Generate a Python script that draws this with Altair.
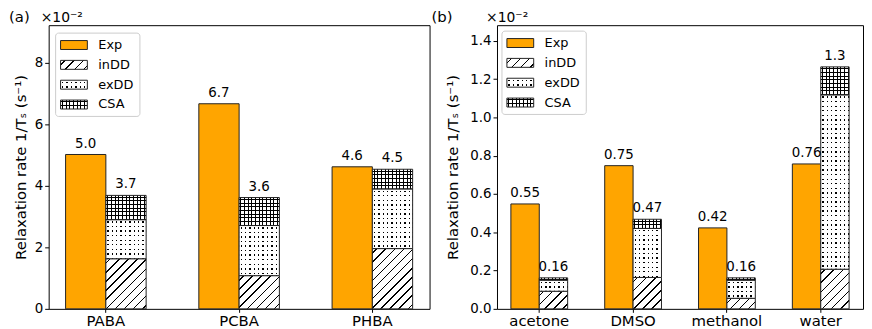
import altair as alt
import pandas as pd

# ---------------- data ----------------
components = ["inDD", "exDD", "CSA"]
legend_domain = ["Exp", "inDD", "exDD", "CSA"]

cats_a = ["PABA", "PCBA", "PHBA"]
exp_a = [5.02, 6.67, 4.62]
indd_a = [1.63, 1.08, 1.96]
exdd_a = [1.27, 1.63, 1.94]
csa_a = [0.79, 0.91, 0.64]

cats_b = ["acetone", "DMSO", "methanol", "water"]
exp_b = [0.548, 0.748, 0.423, 0.757]
indd_b = [0.092, 0.164, 0.055, 0.207]
exdd_b = [0.058, 0.256, 0.095, 0.911]
csa_b = [0.012, 0.048, 0.012, 0.146]

ticks_a = [0, 2, 4, 6, 8]
ticks_b = [0.0, 0.2, 0.4, 0.6, 0.8, 1.0, 1.2, 1.4]

# ---------------- layout / style constants ----------------
H = 286
FONT = "DejaVu Sans"
ORANGE = "#FFA500"
EDGE = "#222222"
CLEAR = "rgba(255,255,255,0)"
Y_TITLE = "Relaxation rate 1/Tₛ (s⁻¹)"


def stops_for(extent, period, thick, line, bg):
    stops = [{"offset": 0, "color": bg}]
    s = period / 2 - thick / 2
    while s < extent:
        a = max(s / extent, 0.0)
        b = min((s + thick) / extent, 1.0)
        stops += [
            {"offset": round(a, 5), "color": bg},
            {"offset": round(a, 5), "color": line},
            {"offset": round(b, 5), "color": line},
            {"offset": round(b, 5), "color": bg},
        ]
        s += period
    stops.append({"offset": 1, "color": bg})
    return stops


def hstripes(h, period, thick, line="#000000", bg="#ffffff"):
    return {"gradient": "linear", "x1": 0, "y1": 0, "x2": 0, "y2": 1,
            "stops": stops_for(max(h, 0.5), period, thick, line, bg)}


def vstripes(w, period, thick, line="#000000", bg="#ffffff"):
    return {"gradient": "linear", "x1": 0, "y1": 0, "x2": 1, "y2": 0,
            "stops": stops_for(w, period, thick, line, bg)}


def diag(w, h, period=9.2, thick=1.5, line="#000000", bg="#ffffff"):
    h = max(h, 0.5)
    r = h / w
    k = (1 + r) / (1 + r * r)
    return {"gradient": "linear", "x1": 0, "y1": 0, "x2": round(k, 5), "y2": round(k * r, 5),
            "stops": stops_for(w + h, period, thick, line, bg)}


def base_fill(w, h_in, h_ex, h_csa):
    return {"inDD": diag(w, h_in), "exDD": hstripes(h_ex, 4.6, 1.4), "CSA": hstripes(h_csa, 3.7, 1.0)}


def over_fill(w):
    return {"exDD": vstripes(w, 4.4, 1.4, CLEAR, "#ffffff"), "CSA": vstripes(w, 3.7, 1.0, "#000000", CLEAR)}


def panel(cats, exp, indd, exdd, csa, W, ymax, ticks, tickfmt, pi, po,
          tag, tag_x, sci_x, title_pad, leg_x, leg_y):
    n = len(cats)
    step = W / (n - pi + 2 * po)
    w = step * (1 - pi) / 2
    ppu = H / ymax

    exp_df = pd.DataFrame({"cat": cats, "grp": ["Exp"] * n, "value": exp})
    rows = []
    for i, c in enumerate(cats):
        for k, (comp, arr) in enumerate(zip(components, [indd, exdd, csa])):
            rows.append({"cat": c, "grp": "Model", "comp": comp, "ord": k, "value": arr[i]})
    mod_df = pd.DataFrame(rows)
    totals = [a + b + c for a, b, c in zip(indd, exdd, csa)]
    lab_df = pd.DataFrame({"cat": cats * 2, "grp": ["Exp"] * n + ["Model"] * n,
                           "total": list(exp) + totals})

    x_enc = alt.X("cat:N", sort=cats,
                  scale=alt.Scale(paddingInner=pi, paddingOuter=po),
                  axis=alt.Axis(title=None, labelAngle=0, labelFontSize=15, labelColor="#000",
                                tickSize=3.5, tickColor="#000", labelPadding=1, domain=False,
                                bandPosition=0.5))
    xo_enc = alt.XOffset("grp:N", sort=["Exp", "Model"],
                         scale=alt.Scale(domain=["Exp", "Model"], paddingInner=0, paddingOuter=0))
    y_scale = alt.Scale(domain=[0, ymax], nice=False, zero=True)
    y_axis = alt.Axis(title=Y_TITLE, values=ticks, format=tickfmt, grid=False, domain=False,
                      tickSize=4, tickColor="#000", labelFontSize=13.5, labelColor="#000",
                      labelPadding=2, titleFontSize=15, titleFontWeight="normal",
                      titleColor="#000", titlePadding=title_pad)

    exp_layer = alt.Chart(exp_df).mark_bar(fill=ORANGE, stroke=EDGE, strokeWidth=1).encode(
        x=x_enc, xOffset=xo_enc,
        y=alt.Y("value:Q", scale=y_scale, axis=y_axis),
    )

    base_cond = []
    for i, c in enumerate(cats):
        t = "datum.cat === '%s' && datum.comp === '%s'"
        f = base_fill(w, indd[i] * ppu, exdd[i] * ppu, csa[i] * ppu)
        for comp in components:
            base_cond.append({"test": t % (c, comp), "value": f[comp]})
    of = over_fill(w)
    over_cond = [{"test": "datum.comp === '%s'" % k, "value": v} for k, v in of.items()]

    y_stack = alt.Y("value:Q", stack="zero", scale=y_scale, axis=y_axis)
    base_layer = alt.Chart(mod_df).mark_bar(strokeWidth=0).encode(
        x=x_enc, xOffset=xo_enc, y=y_stack,
        order=alt.Order("ord:Q", sort="ascending"),
        fill=alt.FillValue("#ffffff", condition=base_cond),
    )
    over_layer = alt.Chart(mod_df).mark_bar(stroke=EDGE, strokeWidth=1).encode(
        x=x_enc, xOffset=xo_enc, y=y_stack,
        order=alt.Order("ord:Q", sort="ascending"),
        fill=alt.FillValue(CLEAR, condition=over_cond),
    )
    text_layer = alt.Chart(lab_df).mark_text(
        baseline="alphabetic", dy=-7, fontSize=13.5, font=FONT, color="#000"
    ).encode(
        x=x_enc, xOffset=xo_enc,
        y=alt.Y("total:Q", scale=y_scale, axis=y_axis),
        text=alt.Text("total:Q", format=".2r"),
    )
    tag_layer = alt.Chart(pd.DataFrame({"t": [tag]})).mark_text(
        align="left", baseline="top", fontSize=15, font=FONT, color="#000"
    ).encode(text="t:N", x=alt.value(tag_x), y=alt.value(-15))
    sci_layer = alt.Chart(pd.DataFrame({"t": ["×10⁻²"]})).mark_text(
        align="left", baseline="top", fontSize=14, font=FONT, color="#000"
    ).encode(text="t:N", x=alt.value(sci_x), y=alt.value(-14))

    bars = alt.layer(exp_layer, base_layer, over_layer, text_layer, tag_layer, sci_layer)

    # ---- legend (drawn as marks, one row per legend entry) ----
    leg_df = pd.DataFrame({"comp": legend_domain})
    leg_y_enc = alt.Y("comp:N", sort=legend_domain, axis=None,
                      scale=alt.Scale(domain=legend_domain, range=[leg_y + 2, leg_y + 82],
                                      paddingInner=0.55, paddingOuter=0.275))
    sym_w, sym_h = 27, 9
    sb = base_fill(sym_w, sym_h, sym_h, sym_h)
    sym_base_cond = [{"test": "datum.comp === '%s'" % k, "value": v} for k, v in sb.items()]
    so = over_fill(sym_w)
    sym_over_cond = [{"test": "datum.comp === '%s'" % k, "value": v} for k, v in so.items()]

    box = alt.Chart(pd.DataFrame({"b": [0]})).mark_rect(
        fill="#ffffff", stroke="#cccccc", strokeWidth=1, cornerRadius=3
    ).encode(x=alt.value(leg_x), x2=alt.value(leg_x + 85),
             y=alt.value(leg_y), y2=alt.value(leg_y + 84))
    sym_base = alt.Chart(leg_df).mark_rect(strokeWidth=0).encode(
        x=alt.value(leg_x + 5), x2=alt.value(leg_x + 5 + sym_w), y=leg_y_enc,
        fill=alt.FillValue(ORANGE, condition=sym_base_cond),
    )
    sym_over = alt.Chart(leg_df).mark_rect(stroke=EDGE, strokeWidth=1).encode(
        x=alt.value(leg_x + 5), x2=alt.value(leg_x + 5 + sym_w), y=leg_y_enc,
        fill=alt.FillValue(CLEAR, condition=sym_over_cond),
    )
    sym_text = alt.Chart(leg_df).mark_text(
        align="left", baseline="middle", fontSize=13, font=FONT, color="#000"
    ).encode(x=alt.value(leg_x + 43), y=leg_y_enc, text="comp:N")
    leg = alt.layer(box, sym_base, sym_over, sym_text)

    return alt.layer(bars, leg).resolve_scale(y="independent").properties(width=W, height=H)


pa = panel(cats_a, exp_a, indd_a, exdd_a, csa_a, 384, H / 31.0, ticks_a, "d",
           0.3955, 0.127, "(a)", -40, -8, 6, 7, 8)
pb = panel(cats_b, exp_b, indd_b, exdd_b, csa_b, 369, H / 193.0, ticks_b, ".1f",
           0.395, 0.148, "(b)", -66, -11, 9, 5, 6)

chart = alt.hconcat(pa, pb, spacing=0).resolve_scale(
    x="independent", y="independent", xOffset="independent"
).properties(
    padding=0
).configure(font=FONT).configure_view(stroke="#000000", strokeWidth=1)

chart.save("out.html", embed_options={"renderer": "svg", "actions": False})
